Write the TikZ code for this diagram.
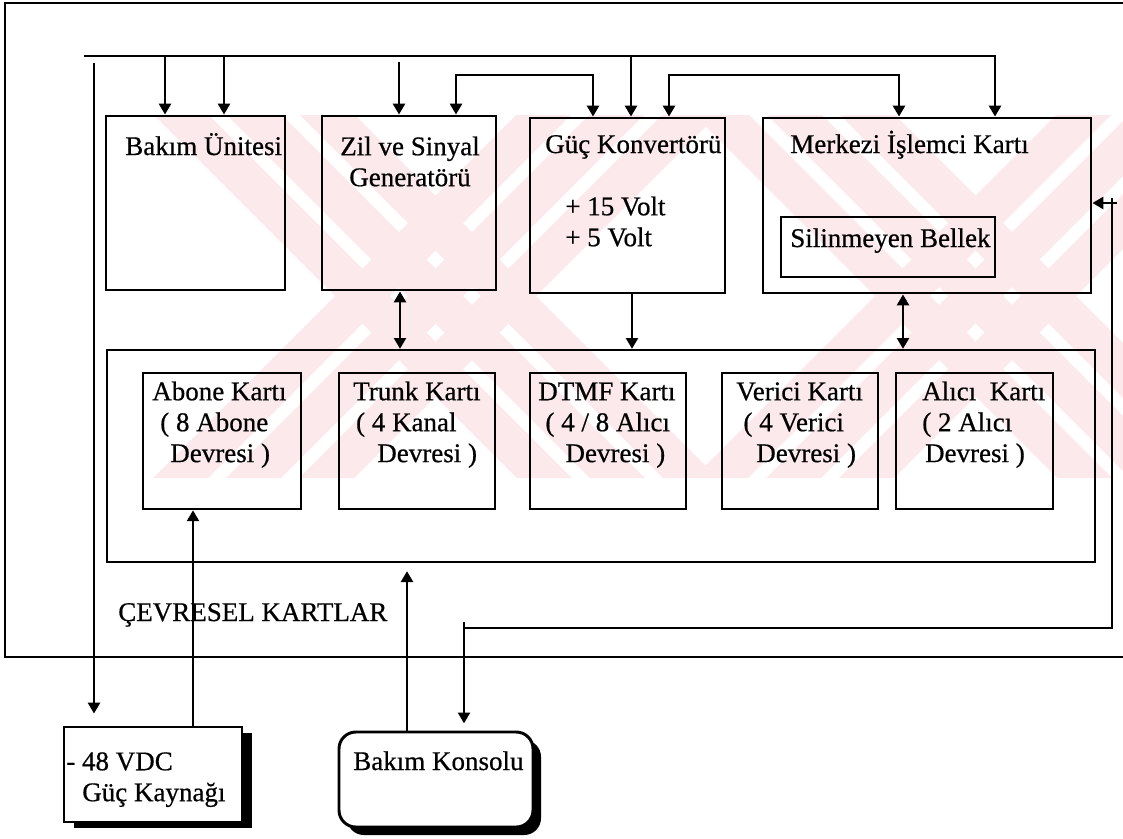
\documentclass[tikz,border=0pt]{standalone}
\usepackage{fontspec}
\setmainfont{Liberation Serif}[FakeBold=0.6]
\usetikzlibrary{positioning}
\usetikzlibrary{calc}
\usetikzlibrary{arrows.meta}
\usetikzlibrary{fit}
\usetikzlibrary{shadows}
\definecolor{wmpink}{RGB}{252,233,236}

\begin{document}
\begin{tikzpicture}[
    x=0.025cm, y=-0.025cm,
    box/.style={draw, line width=2.1pt, inner sep=0pt},
    card/.style={draw, line width=1.9pt, inner sep=0pt},
    lbl/.style={inner sep=0pt, font=\fontsize{19.2}{22}\selectfont},
    link/.style={line width=1.6pt},
    >={Triangle[length=0.27cm, width=0.3cm]}
]
    \useasboundingbox (0,0) rectangle (1123,838);

    % watermark stripes
    \begin{scope}
        \clip (150,115) rectangle (1123,478);
        \foreach \cx in {445,985} {
            \foreach \o in {-110,-37,36} {
                \fill[wmpink] (\cx+\o-181,115) -- (\cx+\o+55-181,115) -- (\cx+\o+55+182,478) -- (\cx+\o+182,478) -- cycle;
                \fill[wmpink] (\cx+\o+181,115) -- (\cx+\o+55+181,115) -- (\cx+\o+55-182,478) -- (\cx+\o-182,478) -- cycle;
            }
        }
    \end{scope}

    % outer frame
    \draw[line width=0.9pt] (1123,3) -- (5,3) -- (5,657) -- (1123,657);

    % upper units
    \node[box, fit={(106,116) (285,290)}] (bakim) {};
    \node[box, fit={(322,116) (496,290)}] (zil) {};
    \node[box, fit={(530,118) (725,293)}] (guc) {};
    \node[box, fit={(763,118) (1091,293)}] (merk) {};
    \node[box, fit={(781,217) (995,277)}] (bellek) {};

    \node[lbl, anchor=base west] (bakimt) at (125,155) {Bakım Ünitesi};
    \node[lbl, align=center, anchor=north] (zilt) at (410,133.3) {\strut Zil ve Sinyal\\Generatörü};
    \node[lbl, anchor=base west] (guct) at (545,153) {Güç Konvertörü};
    \node[lbl, align=left, anchor=north west] (voltt) at (565,193.3) {\strut + 15 Volt\\+ 5 Volt};
    \node[lbl, anchor=base west] (merkt) at (790,153) {Merkezi İşlemci Kartı};
    \node[lbl, anchor=base west] (bellekt) at (790,247) {Silinmeyen Bellek};

    % peripheral cards
    \node[box, line width=1.7pt, fit={(107,350) (1095,562)}] (cevre) {};
    \foreach \n/\xa/\xb in {abone/143/301, trunk/339/495, dtmf/530/686, verici/722/878, alici/896/1053} {
        \node[card, fit={(\xa,373) (\xb,509)}] (\n) {};
    }
    \node[lbl, align=left, anchor=north west] (abonet) at (152,378.3)
        {\strut Abone Kartı\\\hspace*{0.2cm}( 8 Abone\\\hspace*{0.45cm}Devresi )};
    \node[lbl, align=left, anchor=north west] (trunkt) at (353,378.3)
        {\strut Trunk Kartı\\\hspace*{0.07cm}( 4 Kanal\\\hspace*{0.6cm}Devresi )};
    \node[lbl, align=left, anchor=north west] (dtmft) at (538,378.3)
        {\strut DTMF Kartı\\\hspace*{0.18cm}( 4 / 8 Alıcı\\\hspace*{0.68cm}Devresi )};
    \node[lbl, align=left, anchor=north west] (vericit) at (736,378.3)
        {\strut Verici Kartı\\\hspace*{0.18cm}( 4 Verici\\\hspace*{0.5cm}Devresi )};
    \node[lbl, align=left, anchor=north west] (alicit) at (922,378.3)
        {\strut Alıcı\ \ Kartı\\( 2 Alıcı\\\hspace*{0.07cm}Devresi )};
    \node[lbl, anchor=base west] (cevret) at (118,621) {ÇEVRESEL KARTLAR};

    % outside units
    \node[box, fill=white, drop shadow={shadow xshift=0.25cm, shadow yshift=-0.15cm, fill=black, opacity=1},
          fit={(64,727) (242,822)}] (vdc) {};
    \node[lbl, align=left, anchor=north west] (vdct) at (66,748.3) {\strut - 48 VDC\\\hspace*{0.4cm}Güç Kaynağı};
    \node[box, fill=white, rounded corners=0.42cm,
          drop shadow={shadow xshift=0.2cm, shadow yshift=-0.2cm, fill=black, opacity=1},
          fit={(339,732) (533,827)}] (konsol) {};
    \node[lbl, anchor=base west] (konsolt) at (353,770) {Bakım Konsolu};

    % bus and links
    \coordinate (busw) at (84,56);
    \coordinate (buse) at (995,56);
    \draw[link, ->] (busw) -- (buse) -- (buse |- merk.north);
    \foreach \x in {165,224} {
        \draw[link, ->] (\x,56) -- (\x,0 |- bakim.north);
    }
    \draw[link, ->] (631,56) -- (631,0 |- guc.north);
    \draw[link, ->] (399,62) -- (399,0 |- zil.north);
    \draw[link, ->, shorten >=0.3cm] (94,63) -- (94,0 |- vdc.north);
    \draw[link, <->] (456,0 |- zil.north) -- (456,75) -- (593,75) -- (593,0 |- guc.north);
    \draw[link, <->] (669,0 |- guc.north) -- (669,75) -- (899,75) -- (899,0 |- merk.north);

    \draw[link, <->] (400,0 |- zil.south) -- (400,0 |- cevre.north);
    \draw[link, ->] (632,0 |- guc.south) -- (632,0 |- cevre.north);
    \draw[link, <->] (903,0 |- merk.south) -- (903,0 |- cevre.north);

    \draw[link] (1112,198) -- (1112,628) -- (464,628);
    \draw[link, ->] (1117,203) -- (merk.east |- 0,203);
    \draw[link, ->, shorten >=0.18cm] (464,622) -- (464,0 |- konsol.north);
    \draw[link, ->, shorten >=0.2cm] (407,0 |- konsol.north) -- (407,0 |- cevre.south);
    \draw[link, ->] (193,0 |- vdc.north) -- (193,0 |- abone.south);
\end{tikzpicture}
\end{document}
